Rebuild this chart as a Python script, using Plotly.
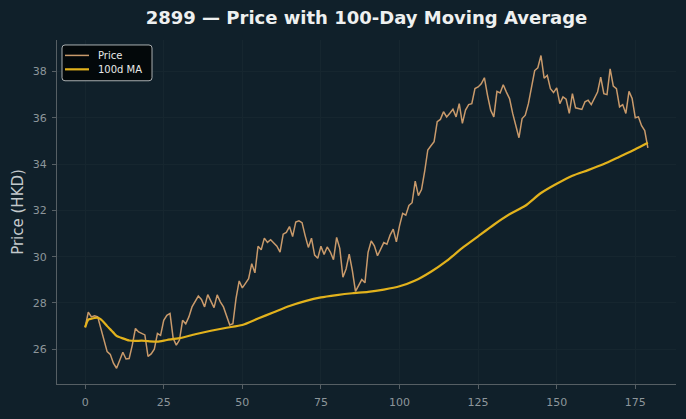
import plotly.graph_objects as go

# ---- data ----
day = list(range(180))
price = [
    26.95, 27.60, 27.40, 27.45, 27.40, 26.90, 26.35, 25.90, 25.78, 25.40,
    25.18, 25.54, 25.87, 25.58, 25.60, 26.18, 26.90, 26.75, 26.70, 26.62,
    25.69, 25.80, 26.00, 26.68, 26.60, 27.25, 27.47, 27.55, 26.47, 26.18,
    26.40, 27.25, 27.10, 27.40, 27.83, 28.04, 28.30, 28.15, 27.83, 28.36,
    28.10, 27.80, 28.35, 28.05, 27.83, 27.40, 27.05, 27.10, 28.20, 28.95,
    28.65, 28.85, 29.05, 29.70, 29.30, 30.45, 30.30, 30.80, 30.62, 30.73,
    30.57, 30.45, 30.20, 30.97, 31.05, 31.30, 30.87, 31.50, 31.55, 31.47,
    30.90, 30.40, 30.80, 30.07, 29.93, 30.45, 30.10, 30.42, 30.20, 29.87,
    30.83, 30.36, 29.11, 29.47, 30.11, 29.40, 28.50, 28.78, 29.01, 28.87,
    30.19, 30.68, 30.47, 30.04, 30.30, 30.61, 30.54, 30.93, 31.19, 30.64,
    31.33, 31.87, 31.79, 32.21, 32.33, 33.26, 32.64, 32.90, 33.68, 34.61,
    34.79, 34.97, 35.83, 35.93, 36.26, 36.04, 36.20, 36.37, 36.04, 36.61,
    35.76, 36.33, 36.57, 36.61, 37.26, 37.33, 37.47, 37.73, 36.97, 36.33,
    36.04, 37.14, 37.07, 37.43, 37.11, 36.83, 36.19, 35.69, 35.14, 35.97,
    36.11, 36.61, 37.26, 38.04, 38.16, 38.69, 37.71, 37.83, 37.26, 37.09,
    37.29, 36.61, 36.90, 36.80, 36.19, 37.04, 36.43, 36.40, 36.36, 36.69,
    36.76, 36.57, 36.83, 37.11, 37.76, 37.04, 37.00, 38.11, 37.37, 37.26,
    36.47, 36.57, 36.19, 37.14, 36.83, 36.00, 36.04, 35.66, 35.45, 34.70,
]
ma_day = [0, 1, 2, 3, 4, 5, 6, 7, 8, 9, 10, 12, 14, 16, 18, 20, 23, 26, 30,
          35, 40, 45, 50, 55, 60, 65, 70, 75, 80, 85, 90, 95, 100, 105, 110,
          115, 120, 125, 130, 135, 140, 145, 150, 155, 160, 165, 170, 175, 179]
ma_100 = [26.95, 27.28, 27.32, 27.35, 27.36, 27.29, 27.16, 27.00, 26.86, 26.72,
          26.58, 26.47, 26.38, 26.36, 26.37, 26.35, 26.33, 26.40, 26.48,
          26.65, 26.80, 26.93, 27.05, 27.33, 27.60, 27.87, 28.08, 28.24, 28.34,
          28.42, 28.48, 28.58, 28.72, 28.97, 29.35, 29.82, 30.38, 30.88, 31.38,
          31.83, 32.20, 32.75, 33.15, 33.50, 33.74, 34.00, 34.32, 34.64, 34.92]

x_ticks = [0, 25, 50, 75, 100, 125, 150, 175]
y_ticks = [26, 28, 30, 32, 34, 36, 38]

series_names = ["Price", "100d MA"]
series_colors = ["#c99a6b", "#e2b21c"]
series_widths = [1.5, 2.2]

BG = "#10202a"
GRID = "#16262f"
SPINE = "#565f64"
TICK_TXT = "#8d969b"

fig = go.Figure()
fig.add_trace(go.Scatter(x=day, y=price, mode="lines", name=series_names[0],
                         line=dict(color=series_colors[0], width=series_widths[0])))
fig.add_trace(go.Scatter(x=ma_day, y=ma_100, mode="lines", name=series_names[1],
                         line=dict(color=series_colors[1], width=series_widths[1],
                                   shape="spline", smoothing=0.6)))

# ---- hand-built legend box (matplotlib-like compact legend) ----
L, T = 57, 40            # plot-area offset in px
PW, PH = 619, 346        # plot-area size in px
def px(x):
    return (x - L) / PW
def py(y):
    return (T + PH - y) / PH

bx0, bx1, by0, by1 = px(62), px(152), py(45), py(81)
rx, ry = 3 / PW, 3 / PH
path = (f"M {bx0+rx},{by0} L {bx1-rx},{by0} Q {bx1},{by0} {bx1},{by0-ry} "
        f"L {bx1},{by1+ry} Q {bx1},{by1} {bx1-rx},{by1} "
        f"L {bx0+rx},{by1} Q {bx0},{by1} {bx0},{by1+ry} "
        f"L {bx0},{by0-ry} Q {bx0},{by0} {bx0+rx},{by0} Z")
shapes = [dict(type="path", xref="paper", yref="paper", path=path,
               fillcolor="#03080a", line=dict(color="#a9aeb0", width=1), layer="above")]
annotations = []
row_y = [55.5, 69.5]
for name, col, w, ry_ in zip(series_names, series_colors, series_widths, row_y):
    shapes.append(dict(type="line", xref="paper", yref="paper",
                       x0=px(65), x1=px(89), y0=py(ry_), y1=py(ry_),
                       line=dict(color=col, width=w), layer="above"))
    annotations.append(dict(text=name, xref="paper", yref="paper",
                            x=px(96), y=py(ry_), xanchor="left", yanchor="middle",
                            showarrow=False,
                            font=dict(family="DejaVu Sans", size=10, color="#e8e8e8")))

fig.update_layout(
    width=686, height=419,
    paper_bgcolor=BG, plot_bgcolor=BG,
    margin=dict(l=57, r=10, t=40, b=33),
    font=dict(family="DejaVu Sans", color=TICK_TXT, size=11),
    title=dict(text="<b>2899 — Price with 100-Day Moving Average</b>",
               x=0.5, xref="paper", xanchor="center",
               y=1 - 18 / 419, yref="container", yanchor="middle",
               font=dict(family="DejaVu Sans", size=18, color="#eef0f0")),
    showlegend=False,
    shapes=shapes,
    annotations=annotations,
    xaxis=dict(range=[-8.95, 187.95], tickvals=x_ticks, showgrid=True,
               gridcolor=GRID, gridwidth=1, zeroline=False,
               showline=True, linecolor=SPINE, linewidth=1,
               ticks="outside", ticklen=4, tickcolor=SPINE,
               ticklabelstandoff=4,
               tickfont=dict(size=11, color=TICK_TXT)),
    yaxis=dict(range=[24.5, 39.36], tickvals=y_ticks, showgrid=True,
               gridcolor=GRID, gridwidth=1, zeroline=False,
               showline=True, linecolor=SPINE, linewidth=1,
               ticks="outside", ticklen=4, tickcolor=SPINE,
               ticklabelstandoff=3,
               tickfont=dict(size=11, color=TICK_TXT),
               title=dict(text="Price (HKD)", standoff=5,
                          font=dict(size=15, color="#c3c9cc"))),
)

fig.write_html("out.html")
